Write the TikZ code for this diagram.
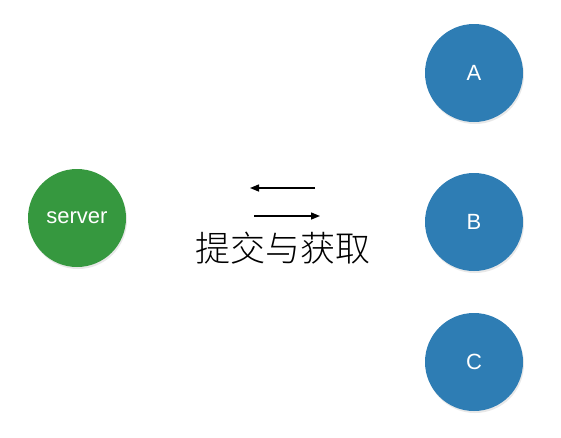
\documentclass[tikz,border=0pt]{standalone}
\usepackage{fontspec}
\setmainfont{Liberation Sans}
\newfontfamily\cjk{Noto Sans CJK SC Light}
\usetikzlibrary{arrows.meta,shadows}
\definecolor{srvgreen}{HTML}{36983F}
\definecolor{nodeblue}{HTML}{2E7DB4}
\tikzset{
  ball/.style={circle, minimum size=98pt, inner sep=0pt, text=white,
    font=\fontsize{22}{22}\selectfont,
    drop shadow={opacity=0.18, shadow xshift=1pt, shadow yshift=-2pt}},
  flow/.style={line width=1.4pt, -{Triangle[length=9pt,width=7pt]}}
}
\begin{document}
\begin{tikzpicture}[x=1pt,y=-1pt]
\useasboundingbox (0,0) rectangle (561,437);
\node[ball, fill=srvgreen] (server) at (77,218) {server};
\node[ball, fill=nodeblue] (A) at (474,73) {A};
\node[ball, fill=nodeblue] (B) at (474,222) {B};
\node[ball, fill=nodeblue] (C) at (474,362) {C};
\coordinate (t1) at (315,188);
\coordinate (t2) at (250,188);
\coordinate (b1) at (254,216);
\coordinate (b2) at (320,216);
\draw[flow] (t1) -- (t2);
\draw[flow] (b1) -- (b2);
\node[font=\cjk\fontsize{35}{35}\selectfont, inner sep=0pt] (lbl) at (283,248) {提交与获取};
\end{tikzpicture}
\end{document}
